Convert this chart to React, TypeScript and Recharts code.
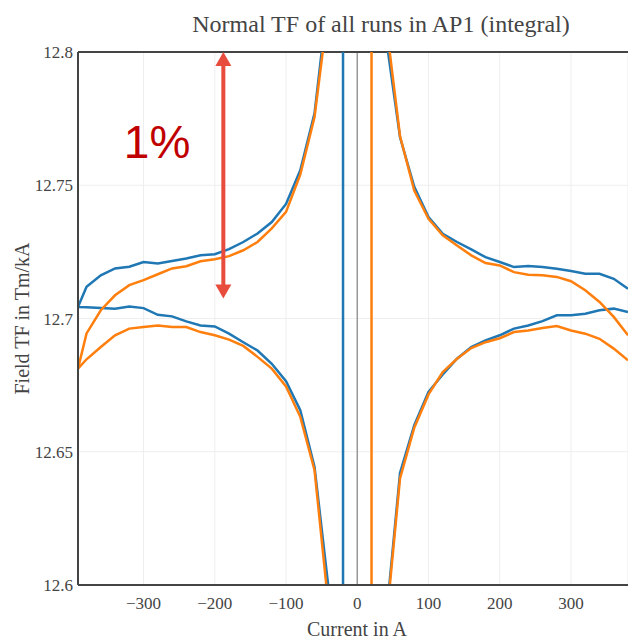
import React from 'react';
import {
  LineChart,
  Line,
  XAxis,
  YAxis,
  CartesianGrid,
  ReferenceLine,
  ReferenceDot,
  Label,
} from 'recharts';

// Currents (A)
const currentsNeg = [-392, -380, -360, -340, -320, -300, -280, -260, -240, -220, -200, -180, -160, -140, -120, -100, -80, -60, -40];
const currentsPos = [40, 60, 80, 100, 120, 140, 160, 180, 200, 220, 240, 260, 280, 300, 320, 340, 360, 380];

// Field TF (Tm/kA), blue run
const blueUpperNeg = [12.7043, 12.7119, 12.7162, 12.7188, 12.7194, 12.7212, 12.7206, 12.7216, 12.7225, 12.7237, 12.7241, 12.726, 12.7287, 12.7319, 12.7362, 12.743, 12.7556, 12.777, 12.823];
const blueLowerNeg = [12.7043, 12.7042, 12.7039, 12.7037, 12.7045, 12.7039, 12.7014, 12.7008, 12.6989, 12.6974, 12.697, 12.6943, 12.6911, 12.688, 12.683, 12.6765, 12.6656, 12.6443, 12.598];
const blueUpperPos = [12.806, 12.768, 12.7494, 12.7381, 12.7318, 12.7287, 12.7259, 12.723, 12.7212, 12.7193, 12.7197, 12.7193, 12.7187, 12.7178, 12.7168, 12.7168, 12.7149, 12.7112];
const blueLowerPos = [12.586, 12.642, 12.66, 12.6725, 12.679, 12.6849, 12.6893, 12.6918, 12.6937, 12.6962, 12.6974, 12.699, 12.7012, 12.7012, 12.7018, 12.7031, 12.7037, 12.7024];
const blueSpikeCurrent = -20;
const blueSpikeValues = [13.5, 11.9];

// Field TF (Tm/kA), orange run
const orangeUpperNeg = [12.6812, 12.6944, 12.7031, 12.7087, 12.7125, 12.7144, 12.7166, 12.7188, 12.7196, 12.7215, 12.7222, 12.7234, 12.7256, 12.7287, 12.7338, 12.74, 12.754, 12.7756, 12.818];
const orangeLowerNeg = [12.6812, 12.6847, 12.6893, 12.6937, 12.6962, 12.6968, 12.6974, 12.6968, 12.6968, 12.6949, 12.6937, 12.6921, 12.6897, 12.6856, 12.6812, 12.6745, 12.6631, 12.6431, 12.591];
const orangeUpperPos = [12.812, 12.7685, 12.748, 12.7374, 12.7312, 12.7274, 12.7237, 12.7208, 12.7199, 12.7174, 12.7164, 12.7162, 12.7156, 12.714, 12.7106, 12.7062, 12.7006, 12.6937];
const orangeLowerPos = [12.584, 12.64, 12.659, 12.6715, 12.6799, 12.6849, 12.6889, 12.6911, 12.6926, 12.6949, 12.6955, 12.6964, 12.6972, 12.6955, 12.6943, 12.6924, 12.6887, 12.6843];
const orangeSpikeCurrent = 20;
const orangeSpikeValues = [13.5, 11.9];

// Axis ticks
const xTicks = [-300, -200, -100, 0, 100, 200, 300];
const yTicks = [12.6, 12.65, 12.7, 12.75, 12.8];
const xDomain = [-392, 380];
const yDomain = [12.6, 12.8];

// Annotation
const arrowCurrent = -188;
const arrowTop = 12.8;
const arrowBottom = 12.7075;
const percentLabel = '1%';
const percentCurrent = -281;
const percentValue = 12.7602;

const zip = (xs: number[], ys: number[]) => xs.map((x, i) => ({ x, y: ys[i] }));

const blueNegLoop = [
  ...zip(currentsNeg, blueUpperNeg),
  ...blueSpikeValues.map((y) => ({ x: blueSpikeCurrent, y })),
  ...zip(currentsNeg, blueLowerNeg).reverse(),
];
const blueUpperPosData = zip(currentsPos, blueUpperPos);
const blueLowerPosData = zip(currentsPos, blueLowerPos);

const orangeUpperNegData = zip(currentsNeg, orangeUpperNeg);
const orangeLowerNegData = zip(currentsNeg, orangeLowerNeg);
const orangePosLoop = [
  ...zip(currentsPos, orangeUpperPos).reverse(),
  ...orangeSpikeValues.map((y) => ({ x: orangeSpikeCurrent, y })),
  ...zip(currentsPos, orangeLowerPos),
];

const BLUE = '#1f77b4';
const ORANGE = '#ff7f0e';
const SERIF = '"Liberation Serif", "Times New Roman", serif';
const TEXT = '#444';
const LW = 2.5;

const fmtX = (v: number) => (v < 0 ? '\u2212' + Math.abs(v) : String(v));

const ArrowShape = (props: any) => {
  const { x1, y1, x2, y2 } = props;
  const x = x1;
  const top = Math.min(y1, y2);
  const bot = Math.max(y1, y2);
  const hh = 14;
  const hw = 8;
  const c = '#e74c3c';
  return (
    <g>
      <line x1={x} y1={top + hh - 2} x2={x2} y2={bot - hh + 2} stroke={c} strokeWidth={4} />
      <polygon points={`${x},${top} ${x - hw},${top + hh} ${x + hw},${top + hh}`} fill={c} />
      <polygon points={`${x},${bot} ${x - hw},${bot - hh} ${x + hw},${bot - hh}`} fill={c} />
    </g>
  );
};

const PercentShape = (props: any) => {
  const { cx, cy } = props;
  return (
    <text
      x={cx}
      y={cy}
      textAnchor="middle"
      fill="#c00000"
      fontSize={46}
      fontFamily='"Liberation Sans", Arial, sans-serif'
    >
      {percentLabel}
    </text>
  );
};

export default function App() {
  return (
    <div style={{ position: 'absolute', left: 0, top: 0, width: 628, height: 640 }}>
      <div
        style={{
          position: 'absolute',
          left: 381,
          top: 12,
          transform: 'translateX(-50%)',
          fontFamily: SERIF,
          fontSize: 24,
          lineHeight: '24px',
          color: TEXT,
          whiteSpace: 'nowrap',
        }}
      >
        Normal TF of all runs in AP1 (integral)
      </div>
      <LineChart width={628} height={640} margin={{ top: 52, right: 0, bottom: 0, left: 0 }}>
        <CartesianGrid stroke="#eee" strokeWidth={1} />
        <XAxis
          type="number"
          dataKey="x"
          domain={xDomain}
          allowDataOverflow
          ticks={xTicks}
          tickFormatter={fmtX}
          tickSize={0}
          tickMargin={12}
          height={55}
          axisLine={{ stroke: TEXT, strokeWidth: 2 }}
          tick={{ fill: TEXT, fontSize: 17, fontFamily: SERIF }}
        >
          <Label
            value="Current in A"
            position="insideBottom"
            offset={4}
            dx={4}
            style={{ fill: TEXT, fontSize: 20, fontFamily: SERIF }}
          />
        </XAxis>
        <YAxis
          type="number"
          dataKey="y"
          domain={yDomain}
          allowDataOverflow
          ticks={yTicks}
          tickSize={0}
          tickMargin={5}
          width={78}
          axisLine={{ stroke: TEXT, strokeWidth: 2 }}
          tick={{ fill: TEXT, fontSize: 17, fontFamily: SERIF }}
        >
          <Label
            value="Field TF in Tm/kA"
            angle={-90}
            position="insideLeft"
            offset={22}
            style={{ fill: TEXT, fontSize: 20, fontFamily: SERIF, textAnchor: 'middle' }}
          />
        </YAxis>
        <ReferenceLine x={0} stroke="#999" strokeWidth={1.5} />
        <ReferenceLine y={12.8} stroke={TEXT} strokeWidth={2} />
        <Line data={blueNegLoop} dataKey="y" stroke={BLUE} strokeWidth={LW} dot={false} type="linear" isAnimationActive={false} />
        <Line data={blueUpperPosData} dataKey="y" stroke={BLUE} strokeWidth={LW} dot={false} type="linear" isAnimationActive={false} />
        <Line data={blueLowerPosData} dataKey="y" stroke={BLUE} strokeWidth={LW} dot={false} type="linear" isAnimationActive={false} />
        <Line data={orangeUpperNegData} dataKey="y" stroke={ORANGE} strokeWidth={LW} dot={false} type="linear" isAnimationActive={false} />
        <Line data={orangeLowerNegData} dataKey="y" stroke={ORANGE} strokeWidth={LW} dot={false} type="linear" isAnimationActive={false} />
        <Line data={orangePosLoop} dataKey="y" stroke={ORANGE} strokeWidth={LW} dot={false} type="linear" isAnimationActive={false} />
        <ReferenceLine
          segment={[
            { x: arrowCurrent, y: arrowTop },
            { x: arrowCurrent, y: arrowBottom },
          ]}
          shape={ArrowShape}
        />
        <ReferenceDot x={percentCurrent} y={percentValue} r={0} shape={PercentShape} />
      </LineChart>
    </div>
  );
}
